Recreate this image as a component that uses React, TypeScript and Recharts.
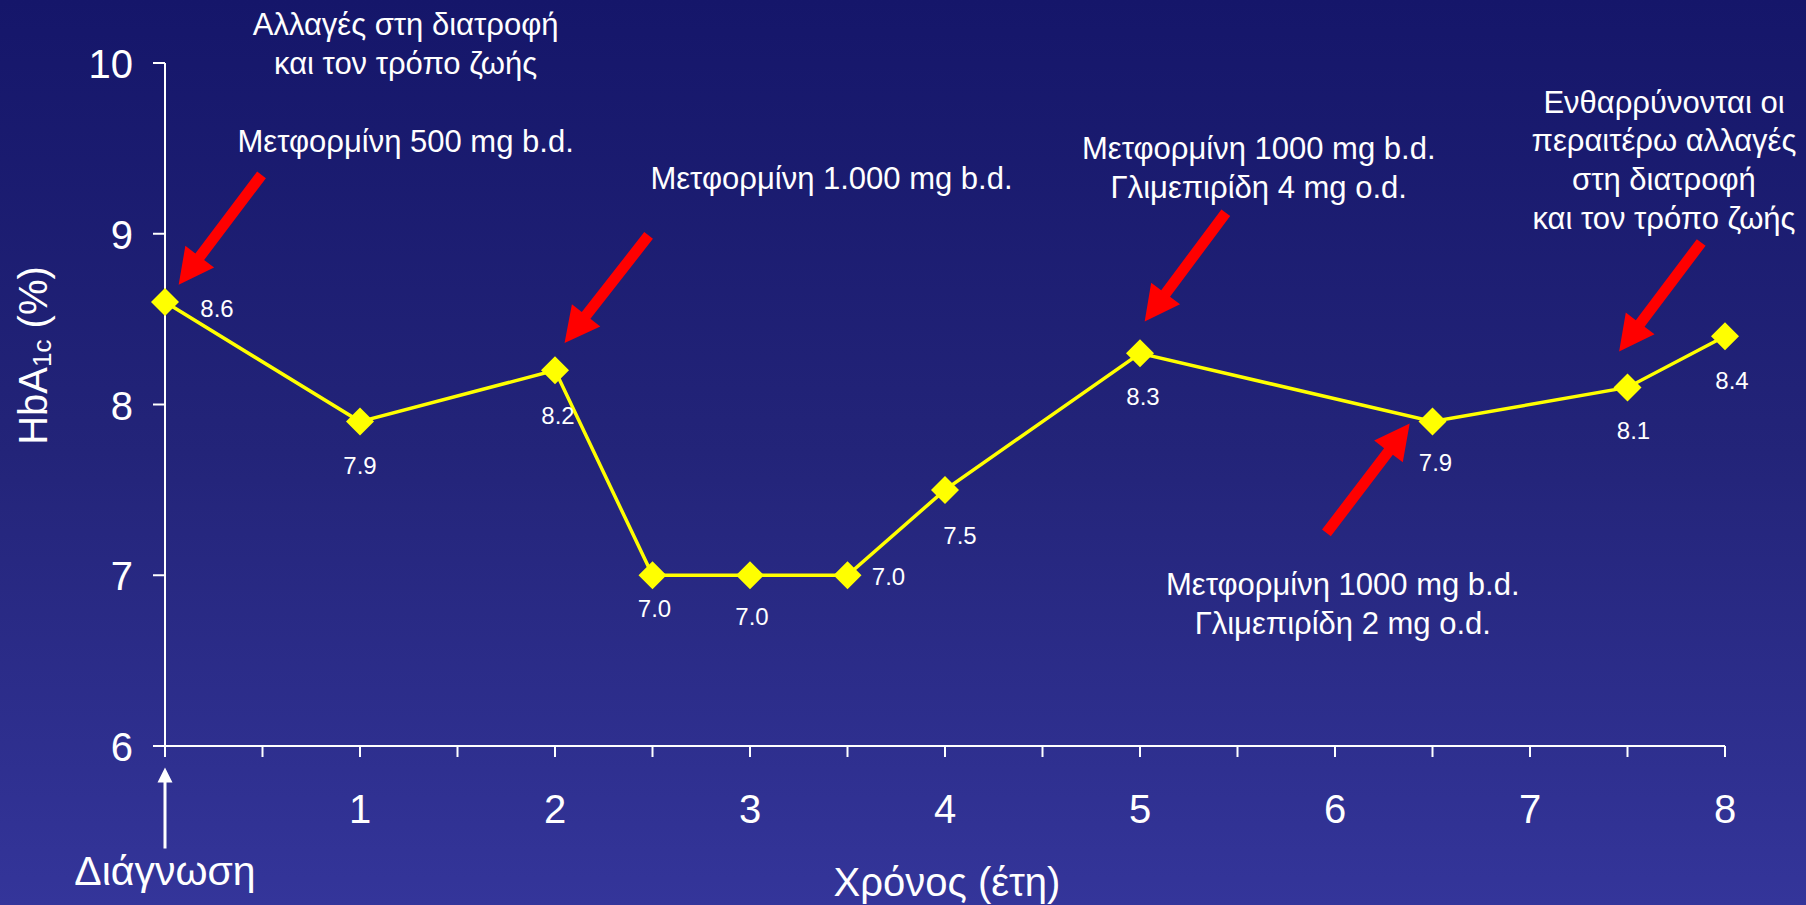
import React from 'react';
import { LineChart, Line, XAxis, YAxis, ReferenceLine, ReferenceDot, LabelList } from 'recharts';

// ---- data ----
const YEARS = [0, 1, 2, 2.5, 3, 3.5, 4, 5, 6.5, 7.5, 8];
const HBA1C = [8.6, 7.9, 8.2, 7.0, 7.0, 7.0, 7.5, 8.3, 7.9, 8.1, 8.4];
const X_TICKS = [0, 0.5, 1, 1.5, 2, 2.5, 3, 3.5, 4, 4.5, 5, 5.5, 6, 6.5, 7, 7.5, 8];
const X_TICK_LABELS = ['', '', '1', '', '2', '', '3', '', '4', '', '5', '', '6', '', '7', '', '8'];
const Y_TICKS = [6, 7, 8, 9, 10];
const X_TITLE = 'Χρόνος (έτη)';
const DIAGNOSIS = 'Διάγνωση';

// label placement per point (px offset from the marker)
const LABEL_OFFSETS: [number, number][] = [
  [52, 6], [0, 44], [3, 45], [2, 33], [2, 41], [41, 1], [15, 46], [3, 43], [3, 41], [6, 43], [7, 44],
];

// annotations (text anchored in data coordinates)
const NOTE_LINES: string[][] = [
  ['Αλλαγές στη διατροφή', 'και τον τρόπο ζωής'],
  ['Μετφορμίνη 500 mg b.d.'],
  ['Μετφορμίνη 1.000 mg b.d.'],
  ['Μετφορμίνη 1000 mg b.d.', 'Γλιμεπιρίδη 4 mg o.d.'],
  ['Ενθαρρύνονται οι', 'περαιτέρω αλλαγές', 'στη διατροφή', 'και τον τρόπο ζωής'],
  ['Μετφορμίνη 1000 mg b.d.', 'Γλιμεπιρίδη 2 mg o.d.'],
];
const NOTE_X = [1.234, 1.234, 3.418, 5.609, 7.687, 6.04];
const NOTE_Y = [10.223, 9.541, 9.325, 9.501, 9.771, 6.944];

// red arrows: tail -> tip, in data coordinates
const ARROW_TAIL_X = [0.495, 2.48, 5.44, 5.956, 7.878];
const ARROW_TAIL_Y = [9.345, 8.99, 9.123, 7.248, 8.949];
const ARROW_TIP_X = [0.07, 2.049, 5.024, 6.383, 7.457];
const ARROW_TIP_Y = [8.702, 8.36, 8.486, 7.888, 8.311];

// diagnosis arrow (white), below the axis at year 0
const DIAG_X = 0;
const DIAG_TAIL_Y = 5.399;
const DIAG_TIP_Y = 5.874;
const DIAG_TEXT_Y = 5.27;

const data = YEARS.map((x, i) => ({ x, v: HBA1C[i] }));

const FONT = '"Liberation Sans", Arial, Helvetica, sans-serif';
const WHITE = '#ffffff';

const arrowShape = (sw: number, hw: number, hl: number, color: string) => (p: any) => {
  const { x1, y1, x2, y2 } = p;
  const dx = x2 - x1;
  const dy = y2 - y1;
  const L = Math.sqrt(dx * dx + dy * dy) || 1;
  const ux = dx / L;
  const uy = dy / L;
  const px = -uy;
  const py = ux;
  const bx = x2 - ux * hl;
  const by = y2 - uy * hl;
  const pts = [
    [x1 + px * sw, y1 + py * sw],
    [bx + px * sw, by + py * sw],
    [bx + px * hw, by + py * hw],
    [x2, y2],
    [bx - px * hw, by - py * hw],
    [bx - px * sw, by - py * sw],
    [x1 - px * sw, y1 - py * sw],
  ];
  return <polygon points={pts.map((q) => q.join(',')).join(' ')} fill={color} stroke="none" />;
};

const noteShape = (lines: string[], size = 31) => (p: any) => (
  <text x={p.cx} y={p.cy} textAnchor="middle" fill={WHITE} fontFamily={FONT} fontSize={size}>
    {lines.map((l, i) => (
      <tspan key={i} x={p.cx} y={p.cy + i * 38.8} dominantBaseline="central">
        {l}
      </tspan>
    ))}
  </text>
);

const Diamond = (p: any) => {
  const { cx, cy, index } = p;
  if (cx == null || cy == null) return <g key={`d${index}`} />;
  const r = 14;
  return (
    <polygon
      key={`d${index}`}
      points={`${cx},${cy - r} ${cx + r},${cy} ${cx},${cy + r} ${cx - r},${cy}`}
      fill="#ffff00"
      stroke="none"
    />
  );
};

const renderValueLabel = (p: any) => {
  const x = p.x ?? p.viewBox?.x;
  const y = p.y ?? p.viewBox?.y;
  const idx = p.index ?? 0;
  const off = LABEL_OFFSETS[idx] || [0, 40];
  const val = typeof p.value === 'number' ? p.value.toFixed(1) : p.value;
  return (
    <text
      key={`l${idx}`}
      x={x + off[0]}
      y={y + off[1]}
      textAnchor="middle"
      dominantBaseline="central"
      fill={WHITE}
      fontFamily={FONT}
      fontSize={24}
    >
      {val}
    </text>
  );
};

const XTick = (p: any) => {
  const i = X_TICKS.indexOf(p.payload.value);
  const label = i >= 0 ? X_TICK_LABELS[i] : '';
  if (!label) return <g />;
  return (
    <text x={p.x} y={p.y + 50} textAnchor="middle" dominantBaseline="central" fill={WHITE} fontFamily={FONT} fontSize={40}>
      {label}
    </text>
  );
};

const YTick = (p: any) => (
  <text x={p.x - 18} y={p.y + 1} textAnchor="end" dominantBaseline="central" fill={WHITE} fontFamily={FONT} fontSize={40}>
    {p.payload.value}
  </text>
);

const XTitle = (p: any) => {
  const vb = p.viewBox || {};
  return (
    <text x={vb.x + vb.width / 2 + 2} y={vb.y + 136} textAnchor="middle" dominantBaseline="central" fill={WHITE} fontFamily={FONT} fontSize={40}>
      {X_TITLE}
    </text>
  );
};

const YTitle = (p: any) => {
  const vb = p.viewBox || {};
  const cx = 33;
  const cy = vb.y + vb.height / 2 - 49;
  return (
    <text
      x={cx}
      y={cy}
      transform={`rotate(-90, ${cx}, ${cy})`}
      textAnchor="middle"
      dominantBaseline="central"
      fill={WHITE}
      fontFamily={FONT}
      fontSize={40}
    >
      <tspan>HbA</tspan>
      <tspan fontSize={26} dy={9}>1c</tspan>
      <tspan dy={-9}> (%)</tspan>
    </text>
  );
};

export default function App() {
  return (
    <div
      style={{
        position: 'fixed',
        left: 0,
        top: 0,
        width: 1806,
        height: 905,
        background: 'linear-gradient(to bottom, #15166a 0%, #232479 50%, #34359a 100%)',
        overflow: 'hidden',
      }}
    >
      <LineChart width={1806} height={905} data={data} margin={{ top: 63, right: 81, left: 105, bottom: 99 }}>
        <XAxis
          dataKey="x"
          type="number"
          domain={[0, 8]}
          ticks={X_TICKS}
          interval={0}
          height={60}
          axisLine={{ stroke: WHITE, strokeWidth: 2 }}
          tickLine={{ stroke: WHITE, strokeWidth: 2 }}
          tickSize={11}
          tick={XTick}
          label={{ content: XTitle }}
        />
        <YAxis
          type="number"
          domain={[6, 10]}
          ticks={Y_TICKS}
          interval={0}
          width={60}
          axisLine={{ stroke: WHITE, strokeWidth: 2 }}
          tickLine={{ stroke: WHITE, strokeWidth: 2 }}
          tickSize={12}
          tick={YTick}
          label={{ content: YTitle }}
        />
        {ARROW_TAIL_X.map((tx, i) => (
          <ReferenceLine
            key={`a${i}`}
            segment={[
              { x: tx, y: ARROW_TAIL_Y[i] },
              { x: ARROW_TIP_X[i], y: ARROW_TIP_Y[i] },
            ]}
            ifOverflow="visible"
            shape={arrowShape(5.5, 18, 35, '#ff0000')}
          />
        ))}
        <ReferenceLine
          segment={[
            { x: DIAG_X, y: DIAG_TAIL_Y },
            { x: DIAG_X, y: DIAG_TIP_Y },
          ]}
          ifOverflow="visible"
          shape={arrowShape(1.5, 7.5, 15, WHITE)}
        />
        <ReferenceDot x={DIAG_X} y={DIAG_TEXT_Y} r={0} ifOverflow="visible" shape={noteShape([DIAGNOSIS], 41)} />
        {NOTE_LINES.map((lines, i) => (
          <ReferenceDot key={`n${i}`} x={NOTE_X[i]} y={NOTE_Y[i]} r={0} ifOverflow="visible" shape={noteShape(lines)} />
        ))}
        <Line
          type="linear"
          dataKey="v"
          stroke="#ffff00"
          strokeWidth={3.5}
          dot={Diamond}
          activeDot={false}
          isAnimationActive={false}
        >
          <LabelList dataKey="v" content={renderValueLabel} />
        </Line>
      </LineChart>
    </div>
  );
}
